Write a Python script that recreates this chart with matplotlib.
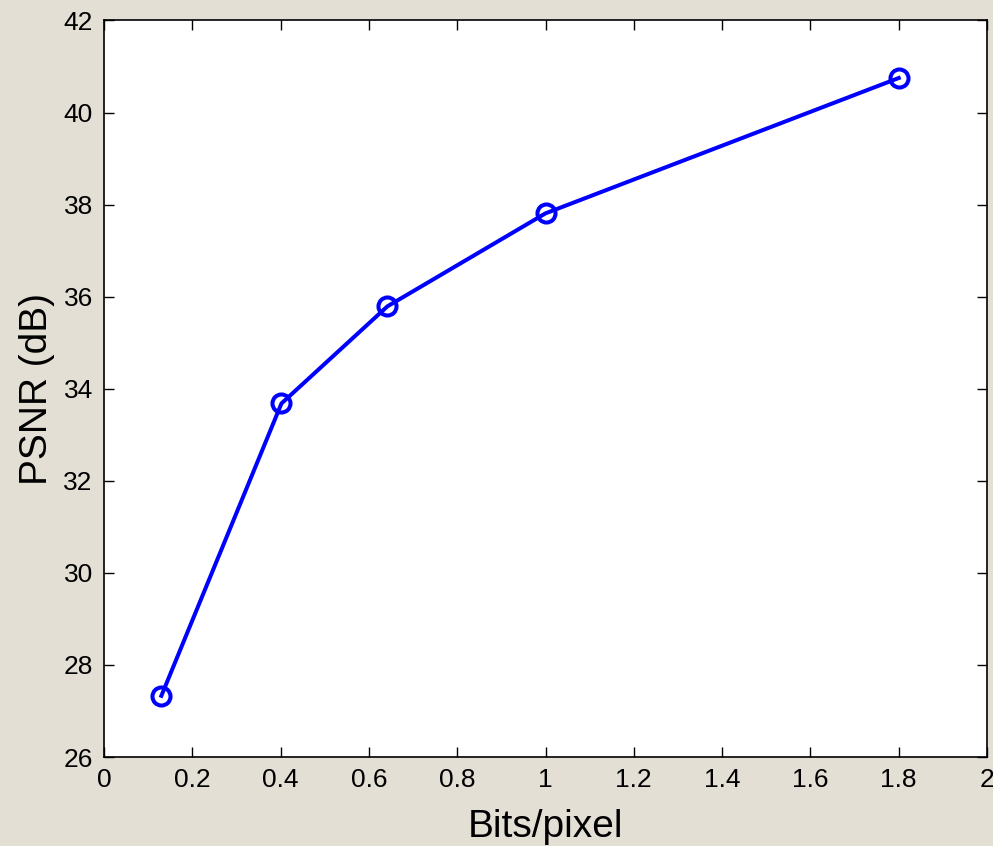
import matplotlib
matplotlib.use("Agg")
import matplotlib.pyplot as plt

bits_per_pixel = [0.13, 0.402, 0.642, 1.0, 1.8]
psnr_db = [27.33, 33.68, 35.79, 37.81, 40.75]
x_ticks = [0, 0.2, 0.4, 0.6, 0.8, 1, 1.2, 1.4, 1.6, 1.8, 2]
x_tick_labels = ["0", "0.2", "0.4", "0.6", "0.8", "1", "1.2", "1.4", "1.6", "1.8", "2"]
y_ticks = [26, 28, 30, 32, 34, 36, 38, 40, 42]

plt.rcParams['font.family'] = ['Liberation Sans', 'DejaVu Sans']

fig = plt.figure(figsize=(9.93, 8.46), dpi=100)
fig.patch.set_facecolor('#e3dfd5')
ax = fig.add_axes([0.1047, 0.1052, 0.8893, 0.8706])
ax.set_facecolor('white')

ax.plot(bits_per_pixel, psnr_db, color='#0000ff', lw=2.9, marker='o',
        markersize=13, markerfacecolor='none', markeredgewidth=2.9,
        markeredgecolor='#0000ff')

ax.set_xlim(0, 2)
ax.set_ylim(26, 42)
ax.set_xticks(x_ticks)
ax.set_xticklabels(x_tick_labels)
ax.set_yticks(y_ticks)
ax.tick_params(direction='in', top=True, right=True, length=7, width=1,
               labelsize=19, pad=8)
for s in ax.spines.values():
    s.set_linewidth(1.2)

ax.set_xlabel('Bits/pixel', fontsize=28, labelpad=12)
ax.set_ylabel('PSNR (dB)', fontsize=28, labelpad=6)

fig.savefig('out.png', dpi=100, facecolor=fig.get_facecolor())
